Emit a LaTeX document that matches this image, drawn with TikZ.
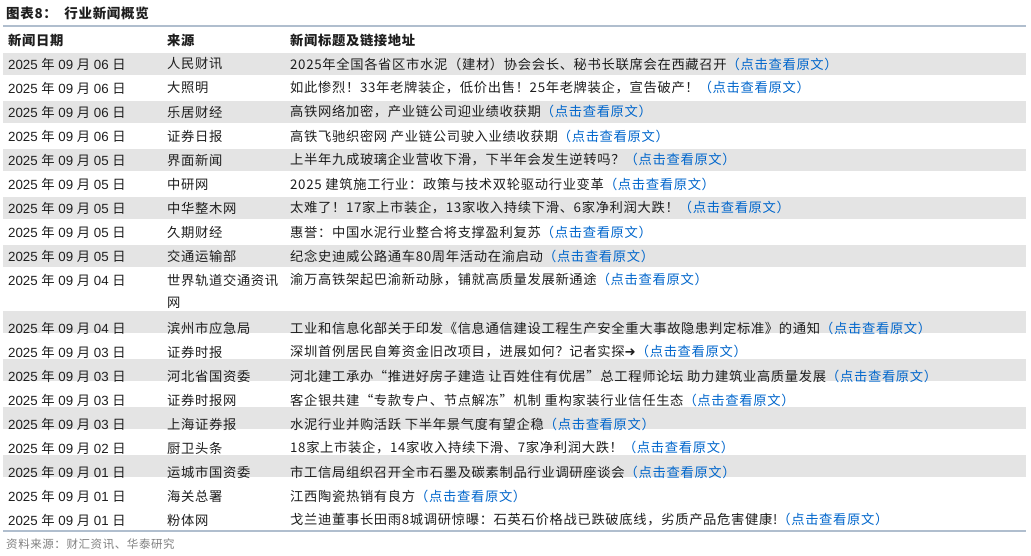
\documentclass[tikz,border=0pt]{standalone}
\usepackage{fontspec}
\setmainfont{Liberation Sans}
\newfontfamily\cjk[LetterSpace=5]{Noto Sans CJK SC}
\newfontfamily\cjkd{Noto Sans CJK SC}
\newfontfamily\dv{DejaVu Sans}
\definecolor{lnk}{RGB}{0,102,204}
\definecolor{rowg}{RGB}{228,228,228}
\definecolor{rul}{RGB}{176,190,206}
\definecolor{txt}{RGB}{30,30,30}
\newcommand{\lk}{\textcolor{lnk}{（点击查看原文）}}
\tikzset{
 cell/.style={anchor=west,inner sep=0pt,font=\fontsize{13.3}{15}\selectfont\cjk,text=txt},
 datec/.style={anchor=west,inner sep=0pt,font=\fontsize{13.3}{15}\selectfont,text=txt},
 hdr/.style={anchor=west,inner sep=0pt,font=\fontsize{13.3}{15}\selectfont\cjk\bfseries,text=txt},
 band/.style={fill=rowg,draw=none}
}
\newcommand{\D}[2]{2025 {\cjkd 年} 09 {\cjkd 月} #1 {\cjkd 日}}
\begin{document}
\begin{tikzpicture}[x=1pt,y=-1pt]
\useasboundingbox (0,0) rectangle (1031,556);
\fill[white] (0,0) rectangle (1031,556);
\foreach \y in {52,100,148,196,244,310,358,406,454}{\fill[band] (3,\y+1) rectangle (1026,\y+23);}
\draw[rul,line width=1.2pt] (3,26) -- (1026,26);
\draw[rul,line width=1.2pt] (3,531) -- (1026,531);
\node[anchor=west,inner sep=0pt,font=\fontsize{13.5}{15}\selectfont\cjk\bfseries,text=txt] (title) at (6,13) {图表8：\ \ 行业新闻概览};
\node[hdr] (h1) at (8,40) {新闻日期};
\node[hdr] (h2) at (167,40) {来源};
\node[hdr] (h3) at (290,40) {新闻标题及链接地址};
\node[datec] (d1) at (8,64) {\D{06}{}}; \node[cell] (s1) at (167,64) {人民财讯}; \node[cell] (t1) at (290,64) {2025年全国各省区市水泥（建材）协会会长、秘书长联席会在西藏召开\lk};
\node[datec] (d2) at (8,88) {\D{06}{}}; \node[cell] (s2) at (167,88) {大照明}; \node[cell] (t2) at (290,88) {如此惨烈！33年老牌装企，低价出售！25年老牌装企，宣告破产！\lk};
\node[datec] (d3) at (8,112) {\D{06}{}}; \node[cell] (s3) at (167,112) {乐居财经}; \node[cell] (t3) at (290,112) {高铁网络加密，产业链公司迎业绩收获期\lk};
\node[datec] (d4) at (8,136) {\D{06}{}}; \node[cell] (s4) at (167,136) {证券日报}; \node[cell] (t4) at (290,136) {高铁飞驰织密网\ 产业链公司驶入业绩收获期\lk};
\node[datec] (d5) at (8,160) {\D{05}{}}; \node[cell] (s5) at (167,160) {界面新闻}; \node[cell] (t5) at (290,160) {上半年九成玻璃企业营收下滑，下半年会发生逆转吗？\lk};
\node[datec] (d6) at (8,184) {\D{05}{}}; \node[cell] (s6) at (167,184) {中研网}; \node[cell] (t6) at (290,184) {2025 建筑施工行业：政策与技术双轮驱动行业变革\lk};
\node[datec] (d7) at (8,208) {\D{05}{}}; \node[cell] (s7) at (167,208) {中华整木网}; \node[cell] (t7) at (290,208) {太难了！17家上市装企，13家收入持续下滑、6家净利润大跌！\lk};
\node[datec] (d8) at (8,232) {\D{05}{}}; \node[cell] (s8) at (167,232) {久期财经}; \node[cell] (t8) at (290,232) {惠誉：中国水泥行业整合将支撑盈利复苏\lk};
\node[datec] (d9) at (8,256) {\D{05}{}}; \node[cell] (s9) at (167,256) {交通运输部}; \node[cell] (t9) at (290,256) {纪念史迪威公路通车80周年活动在渝启动\lk};
\node[datec] (d10) at (8,280) {\D{04}{}}; \node[cell] (s10) at (167,280) {世界轨道交通资讯}; \node[cell] (s10b) at (167,303) {网}; \node[cell] (t10) at (290,280) {渝万高铁架起巴渝新动脉，铺就高质量发展新通途\lk};
\node[datec] (d11) at (8,328) {\D{04}{}}; \node[cell] (s11) at (167,328) {滨州市应急局}; \node[cell] (t11) at (290,328) {工业和信息化部关于印发《信息通信建设工程生产安全重大事故隐患判定标准》的通知\lk};
\node[datec] (d12) at (8,352) {\D{03}{}}; \node[cell] (s12) at (167,352) {证券时报}; \node[cell] (t12) at (290,352) {深圳首例居民自筹资金旧改项目，进展如何？记者实探{\dv ➜}\lk};
\node[datec] (d13) at (8,376) {\D{03}{}}; \node[cell] (s13) at (167,376) {河北省国资委}; \node[cell] (t13) at (290,376) {河北建工承办“推进好房子建造\ 让百姓住有优居”总工程师论坛\ 助力建筑业高质量发展\lk};
\node[datec] (d14) at (8,400) {\D{03}{}}; \node[cell] (s14) at (167,400) {证券时报网}; \node[cell] (t14) at (290,400) {客企银共建“专款专户、节点解冻”机制\ 重构家装行业信任生态\lk};
\node[datec] (d15) at (8,424) {\D{03}{}}; \node[cell] (s15) at (167,424) {上海证券报}; \node[cell] (t15) at (290,424) {水泥行业并购活跃\ 下半年景气度有望企稳\lk};
\node[datec] (d16) at (8,448) {\D{02}{}}; \node[cell] (s16) at (167,448) {厨卫头条}; \node[cell] (t16) at (290,448) {18家上市装企，14家收入持续下滑、7家净利润大跌！\lk};
\node[datec] (d17) at (8,472) {\D{01}{}}; \node[cell] (s17) at (167,472) {运城市国资委}; \node[cell] (t17) at (290,472) {市工信局组织召开全市石墨及碳素制品行业调研座谈会\lk};
\node[datec] (d18) at (8,496) {\D{01}{}}; \node[cell] (s18) at (167,496) {海关总署}; \node[cell] (t18) at (290,496) {江西陶瓷热销有良方\lk};
\node[datec] (d19) at (8,520) {\D{01}{}}; \node[cell] (s19) at (167,520) {粉体网}; \node[cell] (t19) at (290,520) {戈兰迪董事长田雨8城调研惊曝：石英石价格战已跌破底线，劣质产品危害健康!\lk};
\node[anchor=west,inner sep=0pt,font=\fontsize{11.5}{13}\selectfont\cjk,text=gray] (src) at (6,544) {资料来源：财汇资讯、华泰研究};
\end{tikzpicture}
\end{document}
